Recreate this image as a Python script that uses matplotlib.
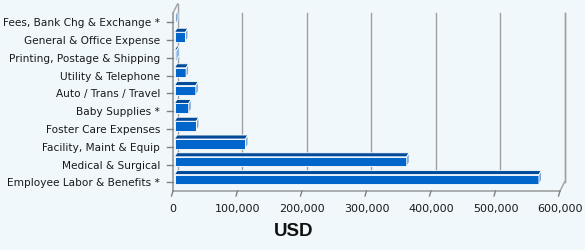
import numpy as np
import matplotlib
matplotlib.use("Agg")
from matplotlib import pyplot as plt
from matplotlib.patches import Polygon, Rectangle

categories = ["Employee Labor & Benefits *", "Medical & Surgical", "Facility, Maint & Equip",
              "Foster Care Expenses", "Baby Supplies *", "Auto / Trans / Travel",
              "Utility & Telephone", "Printing, Postage & Shipping",
              "General & Office Expense", "Fees, Bank Chg & Exchange *"]
values = [565000, 360000, 110000, 34000, 22000, 33000, 18000, 3500, 17000, 1500]
xticks = [0, 100000, 200000, 300000, 400000, 500000, 600000]
xlabels = ["0", "100,000", "200,000", "300,000", "400,000", "500,000", "600,000"]

bg = "#F0F8FB"
grid_col = "#A0A0A0"
front_col = "#0066CC"
top_col = "#004A9A"
side_col = "#7AA6D8"

fig = plt.figure(figsize=(5.85, 2.5), dpi=100, facecolor=bg)
ax = fig.add_axes([173 / 585, (250 - 191) / 250, 387 / 585, 178 / 250])
ax.set_facecolor(bg)
ax.set_xlim(0, 600000)
ax.set_ylim(-0.65, 9.35)
ax.axis("off")

# pixel -> data units
px = 600000 / 387.0
py = 10.0 / 178.0

# wall depth
wdx, wdy = 4.5 * px, 9 * py
floor = -0.65
top = 9.35

# back wall gridlines
for t in xticks[1:]:
    ax.plot([t + wdx, t + wdx], [floor + wdy, top], color=grid_col, lw=1.0, clip_on=False)
# left wall
ax.plot([0, 0], [floor, top], color=grid_col, lw=1.3, clip_on=False)
ax.plot([0, wdx], [top, top + wdy], color=grid_col, lw=1.0, clip_on=False)
ax.plot([wdx, wdx], [floor + wdy, top + wdy], color=grid_col, lw=1.0, clip_on=False)
# floor
ax.plot([0, 600000], [floor, floor], color=grid_col, lw=1.2, clip_on=False)
ax.plot([600000, 600000 + wdx], [floor, floor + wdy], color=grid_col, lw=1.0, clip_on=False)
ax.plot([600000 + wdx, 600000 + wdx], [floor + wdy, top], color=grid_col, lw=1.0, clip_on=False)

# x ticks (slanted) and labels
for t, lab in zip(xticks, xlabels):
    ax.plot([t, t - 1.5 * px], [floor, floor - 5 * py], color="#808080", lw=1, clip_on=False)
    ax.text(t, floor - 18 * py, lab, ha="center", va="center", fontsize=8, color="#1a1a1a")

# y ticks and labels
for i, c in enumerate(categories):
    yt = i - 3 * py
    ax.plot([-6 * px, 0], [yt, yt], color="#808080", lw=1, clip_on=False)
    ax.text(-13 * px, i - 4 * py, c, ha="right", va="center", fontsize=7.6, color="#1a1a1a")

# 3d-ish bars
bdx, bdy = 2.5 * px, 4 * py
h = 0.27
for i, v in enumerate(values):
    x0 = 1.5 * px
    ax.add_patch(Rectangle((x0, i - h), v, 2 * h, facecolor=front_col,
                           edgecolor="white", lw=0.6, zorder=3))
    ax.add_patch(Polygon([(x0, i + h), (x0 + v, i + h), (x0 + v + bdx, i + h + bdy),
                          (x0 + bdx, i + h + bdy)], closed=True, facecolor=top_col,
                         edgecolor="white", lw=0.6, zorder=3))
    ax.add_patch(Polygon([(x0 + v, i - h), (x0 + v + bdx, i - h + bdy),
                          (x0 + v + bdx, i + h + bdy), (x0 + v, i + h)], closed=True,
                         facecolor=side_col, edgecolor="white", lw=0.6, zorder=3))

fig.text(294 / 585, 1 - 232 / 250, "USD", ha="center", va="center", fontsize=13.5,
         fontweight="bold", family="Liberation Sans", color="#111111")

fig.savefig("out.png", dpi=100, facecolor=bg)
